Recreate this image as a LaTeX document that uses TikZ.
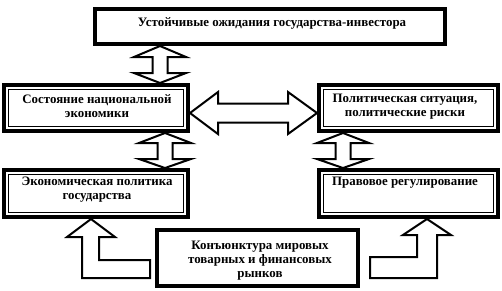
\documentclass[tikz,border=0pt]{standalone}
\usepackage{fontspec}
\setmainfont{Liberation Serif}
\begin{document}
\begin{tikzpicture}[x=1pt,y=-1pt,
  box/.style={draw,line width=3.5pt,inner sep=0pt,outer sep=0pt},
  inner/.style={line width=0.8pt},
  txt/.style={align=center,font=\fontsize{12.9}{13.8}\selectfont\bfseries,inner sep=0pt},
  barrow/.style={draw,line width=2pt,fill=white,line join=miter}]
\useasboundingbox (0,0) rectangle (502,290);
% boxes
\node[box,minimum width=350pt,minimum height=35pt] (top) at (270,26.5) {};
\node[box,minimum width=184pt,minimum height=46pt] (sost) at (96,108) {};
\node[box,minimum width=179pt,minimum height=46pt] (polit) at (408.5,108) {};
\node[box,minimum width=184pt,minimum height=47pt] (econ) at (96,193.5) {};
\node[box,minimum width=179pt,minimum height=47pt] (prav) at (408.5,193.5) {};
\node[box,minimum width=201pt,minimum height=56pt] (bot) at (257.5,258) {};
\foreach \n in {sost,polit,econ,prav}
  \draw[inner] ([shift={(4.5,4.5)}]\n.north west) rectangle ([shift={(-4.5,-4.5)}]\n.south east);
% texts
\node[txt] (topT) at (272,23) {Устойчивые ожидания государства-инвестора};
\node[txt] (sostT) at (97,106.5) {Состояние национальной\\экономики};
\node[txt] (politT) at (405,106.5) {Политическая ситуация,\\политические риски};
\node[txt] (econT) at (97,190) {Экономическая политика\\государства};
\node[txt] (pravT) at (405,183) {Правовое регулирование};
\node[txt] (botT) at (260,260.5) {Конъюнктура мировых\\товарных и финансовых\\рынков};
% block arrows
\draw[barrow] (160,46) -- (186,57) -- (167.5,57) -- (167.5,73) -- (186,73) -- (160,83)
  -- (134,73) -- (152.5,73) -- (152.5,57) -- (134,57) -- cycle;
\draw[barrow] (165,133) -- (191,143) -- (172.5,143) -- (172.5,159) -- (191,159) -- (165,168)
  -- (139,159) -- (157.5,159) -- (157.5,143) -- (139,143) -- cycle;
\draw[barrow] (343,133) -- (369,143) -- (350.5,143) -- (350.5,159) -- (369,159) -- (343,168)
  -- (317,159) -- (335.5,159) -- (335.5,143) -- (317,143) -- cycle;
\draw[barrow] (190,113) -- (218,92) -- (218,103.5) -- (288,103.5) -- (288,92) -- (317,113)
  -- (288,134) -- (288,122.5) -- (218,122.5) -- (218,134) -- cycle;
\draw[barrow] (91,219) -- (115,237) -- (99,237) -- (99,260) -- (150,260) -- (150,278)
  -- (82,278) -- (82,237) -- (67,237) -- cycle;
\draw[barrow] (427,219) -- (451,235) -- (437,235) -- (437,278) -- (370,278) -- (370,257)
  -- (417,257) -- (417,235) -- (403,235) -- cycle;
\end{tikzpicture}
\end{document}
